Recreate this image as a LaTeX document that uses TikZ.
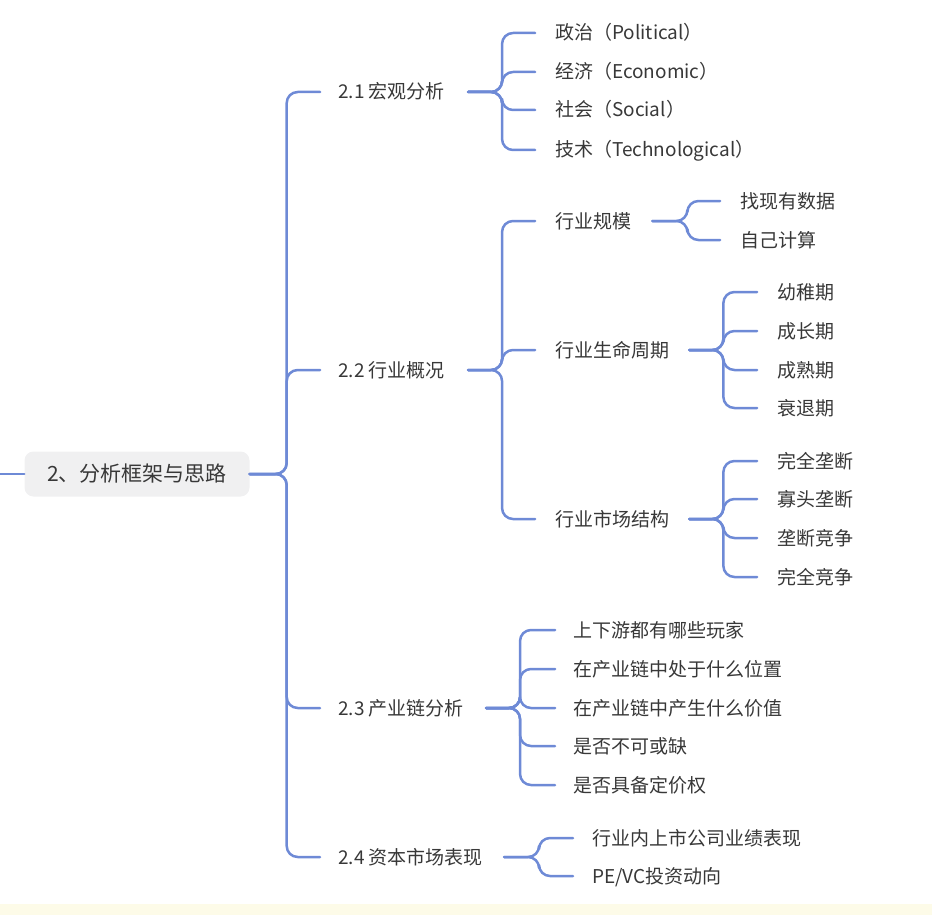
\documentclass[tikz,border=0pt]{standalone}
\usepackage{fontspec}
\setmainfont{Noto Sans CJK SC}
\usepackage{xcolor}
\usetikzlibrary{calc,positioning}
\definecolor{linkblue}{RGB}{110,138,214}
\definecolor{inkgray}{RGB}{56,56,56}
\definecolor{topicgray}{RGB}{240,240,241}
\definecolor{paper}{RGB}{253,251,232}
\tikzset{
  topic/.style={rounded corners=9pt, fill=topicgray, minimum width=225, minimum height=45,
    inner sep=0pt, text=inkgray, font=\fontsize{21}{25}\selectfont},
  sub/.style={anchor=west, inner sep=0pt, text=inkgray, text height=16pt, text depth=2pt,
    font=\fontsize{19}{22}\selectfont},
  link/.style={draw=linkblue, line width=2.5pt, rounded corners=11pt},
  every picture/.style={line cap=round, line join=round}
}

\begin{document}
\begin{tikzpicture}[x=1pt, y=-1pt]
  \useasboundingbox (0,0) rectangle (932,915);
  \fill[paper] (0,904) rectangle (932,915);

  \node[topic] (root) at (137,474) {2、分析框架与思路};
  \coordinate (in) at (0,474);

  \node[sub] (m1) at (338,92) {2.1 宏观分析};
  \node[sub] (m2) at (338,370) {2.2 行业概况};
  \node[sub] (m3) at (338,708) {2.3 产业链分析};
  \node[sub] (m4) at (338,857) {2.4 资本市场表现};

  \node[sub] (a1) at (555,33) {政治（Political）};
  \node[sub] (a2) at (555,72) {经济（Economic）};
  \node[sub] (a3) at (555,110) {社会（Social）};
  \node[sub] (a4) at (555,150) {技术（Technological）};

  \node[sub] (b1) at (555,221) {行业规模};
  \node[sub] (b2) at (555,350) {行业生命周期};
  \node[sub] (b3) at (555,519) {行业市场结构};

  \node[sub] (s1) at (740,201) {找现有数据};
  \node[sub] (s2) at (740,240) {自己计算};

  \node[sub] (l1) at (777,292) {幼稚期};
  \node[sub] (l2) at (777,331) {成长期};
  \node[sub] (l3) at (777,370) {成熟期};
  \node[sub] (l4) at (777,408) {衰退期};

  \node[sub] (k1) at (777,461) {完全垄断};
  \node[sub] (k2) at (777,499) {寡头垄断};
  \node[sub] (k3) at (777,538) {垄断竞争};
  \node[sub] (k4) at (777,577) {完全竞争};

  \node[sub] (c1) at (573,630) {上下游都有哪些玩家};
  \node[sub] (c2) at (573,669) {在产业链中处于什么位置};
  \node[sub] (c3) at (573,708) {在产业链中产生什么价值};
  \node[sub] (c4) at (573,746) {是否不可或缺};
  \node[sub] (c5) at (573,785) {是否具备定价权};

  \node[sub] (d1) at (592,838) {行业内上市公司业绩表现};
  \node[sub] (d2) at (592,876) {PE/VC投资动向};

  \draw[link] (in) -- (root.west);
  \draw[link] (root.east) -- ++(37,0) |- ([xshift=-18pt]m1.west);
  \draw[link] (root.east) -- ++(37,0) |- ([xshift=-18pt]m2.west);
  \draw[link] (root.east) -- ++(37,0) |- ([xshift=-18pt]m3.west);
  \draw[link] (root.east) -- ++(37,0) |- ([xshift=-18pt]m4.west);

  \draw[link] ([xshift=23pt]m1.east) -- ++(34,0) |- ([xshift=-20pt]a1.west);
  \draw[link] ([xshift=23pt]m1.east) -- ++(34,0) |- ([xshift=-20pt]a2.west);
  \draw[link] ([xshift=23pt]m1.east) -- ++(34,0) |- ([xshift=-20pt]a3.west);
  \draw[link] ([xshift=23pt]m1.east) -- ++(34,0) |- ([xshift=-20pt]a4.west);

  \draw[link] ([xshift=23pt]m2.east) -- ++(34,0) |- ([xshift=-20pt]b1.west);
  \draw[link] ([xshift=23pt]m2.east) -- ++(34,0) |- ([xshift=-20pt]b2.west);
  \draw[link] ([xshift=23pt]m2.east) -- ++(34,0) |- ([xshift=-20pt]b3.west);

  \draw[link] ([xshift=21pt]b1.east) -- ++(35,0) |- ([xshift=-20pt]s1.west);
  \draw[link] ([xshift=21pt]b1.east) -- ++(35,0) |- ([xshift=-20pt]s2.west);

  \draw[link] ([xshift=20pt]b2.east) -- ++(34,0) |- ([xshift=-20pt]l1.west);
  \draw[link] ([xshift=20pt]b2.east) -- ++(34,0) |- ([xshift=-20pt]l2.west);
  \draw[link] ([xshift=20pt]b2.east) -- ++(34,0) |- ([xshift=-20pt]l3.west);
  \draw[link] ([xshift=20pt]b2.east) -- ++(34,0) |- ([xshift=-20pt]l4.west);

  \draw[link] ([xshift=20pt]b3.east) -- ++(34,0) |- ([xshift=-20pt]k1.west);
  \draw[link] ([xshift=20pt]b3.east) -- ++(34,0) |- ([xshift=-20pt]k2.west);
  \draw[link] ([xshift=20pt]b3.east) -- ++(34,0) |- ([xshift=-20pt]k3.west);
  \draw[link] ([xshift=20pt]b3.east) -- ++(34,0) |- ([xshift=-20pt]k4.west);

  \draw[link] ([xshift=22pt]m3.east) -- ++(34,0) |- ([xshift=-18pt]c1.west);
  \draw[link] ([xshift=22pt]m3.east) -- ++(34,0) |- ([xshift=-18pt]c2.west);
  \draw[link] ([xshift=22pt]m3.east) -- ++(34,0) |- ([xshift=-18pt]c3.west);
  \draw[link] ([xshift=22pt]m3.east) -- ++(34,0) |- ([xshift=-18pt]c4.west);
  \draw[link] ([xshift=22pt]m3.east) -- ++(34,0) |- ([xshift=-18pt]c5.west);

  \draw[link] ([xshift=21pt]m4.east) -- ++(35,0) |- ([xshift=-19pt]d1.west);
  \draw[link] ([xshift=21pt]m4.east) -- ++(35,0) |- ([xshift=-19pt]d2.west);
\end{tikzpicture}
\end{document}
